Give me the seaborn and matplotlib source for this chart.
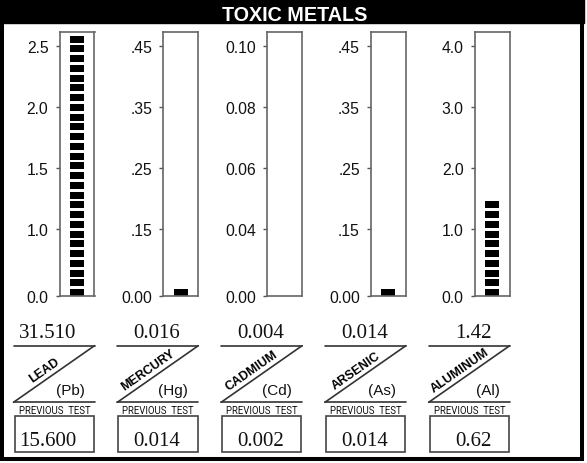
import numpy as np
import matplotlib
matplotlib.use("Agg")
import matplotlib.pyplot as plt
import seaborn as sns
from matplotlib.patches import Rectangle

metals = ["LEAD", "MERCURY", "CADMIUM", "ARSENIC", "ALUMINUM"]
symbols = ["(Pb)", "(Hg)", "(Cd)", "(As)", "(Al)"]
results = ["31.510", "0.016", "0.004", "0.014", "1.42"]
previous = ["15.600", "0.014", "0.002", "0.014", "0.62"]
# level shown by each bar (cadmium's bar is empty on the chart)
bar_values = [31.510, 0.016, 0.0, 0.014, 1.42]
scale_ticks = [
    [0.0, 1.0, 1.5, 2.0, 2.5],
    [0.0, 0.15, 0.25, 0.35, 0.45],
    [0.0, 0.04, 0.06, 0.08, 0.10],
    [0.0, 0.15, 0.25, 0.35, 0.45],
    [0.0, 1.0, 2.0, 3.0, 4.0],
]
tick_labels = [
    ["0.0", "1.0", "1.5", "2.0", "2.5"],
    ["0.00", ".15", ".25", ".35", ".45"],
    ["0.00", "0.04", "0.06", "0.08", "0.10"],
    ["0.00", ".15", ".25", ".35", ".45"],
    ["0.0", "1.0", "2.0", "3.0", "4.0"],
]

W, H = 587, 464
TICK_POS = np.array([0, 67, 128, 189, 250], float)  # report's stretched scale
BOX_TOP = 263.7
SEG_PERIOD, SEG_H = 9.75, 7.0


def make_scale(ticks):
    t = np.array(ticks, float)
    p = TICK_POS
    s_hi = (p[-1] - p[-2]) / (t[-1] - t[-2])
    s_lo = (p[1] - p[0]) / (t[1] - t[0])

    def fwd(v):
        v = np.asarray(v, float)
        out = np.interp(v, t, p)
        out = np.where(v > t[-1], p[-1] + (v - t[-1]) * s_hi, out)
        return np.where(v < t[0], (v - t[0]) * s_lo, out)

    def inv(q):
        q = np.asarray(q, float)
        out = np.interp(q, p, t)
        out = np.where(q > p[-1], t[-1] + (q - p[-1]) / s_hi, out)
        return np.where(q < p[0], t[0] + (q - p[0]) / s_lo, out)

    return fwd, inv


sns.set_theme(style="white")
plt.rcParams["font.family"] = ["Liberation Sans", "DejaVu Sans"]
serif = ["Liberation Serif", "DejaVu Serif"]
small = ["Roboto", "Liberation Sans"]

fig = plt.figure(figsize=(W / 100, H / 100), dpi=100)
bg = fig.add_axes([0, 0, 1, 1])
bg.set_xlim(0, W)
bg.set_ylim(H, 0)
bg.axis("off")

# frame and title bar
bg.add_patch(Rectangle((0, 0), 584, 24, color="black"))
bg.add_patch(Rectangle((2, 2), 580, 457.5, fill=False, lw=2.9, edgecolor="black"))
bg.text(295, 20.9, "TOXIC METALS", color="white", fontsize=14.2, fontweight="bold",
        ha="center", va="baseline")

line_kw = dict(color="#333333", lw=1.2)

for i in range(len(metals)):
    left = 59.5 + 103.8 * i
    right = left + 35
    ax = fig.add_axes([left / W, (H - 297) / H, 35 / W, BOX_TOP / H])
    fwd, inv = make_scale(scale_ticks[i])
    ax.set_yscale("function", functions=(fwd, inv))

    fill = min(float(fwd(bar_values[i])), BOX_TOP - 3)
    k = 0
    while k * SEG_PERIOD < fill and k * SEG_PERIOD + SEG_H <= BOX_TOP - 2:
        lo = float(inv(k * SEG_PERIOD))
        hi = float(inv(k * SEG_PERIOD + SEG_H))
        sns.barplot(x=[0], y=[hi - lo], bottom=lo, color="black", width=14 / 35,
                    saturation=1, errorbar=None, linewidth=0, ax=ax)
        k += 1

    ax.set_xlim(-0.5, 0.5)
    ax.set_ylim(0, float(inv(BOX_TOP)))
    ax.set_xticks([])
    ax.set_yticks(scale_ticks[i], labels=tick_labels[i])
    ax.minorticks_off()
    ax.set_xlabel("")
    ax.set_ylabel("")
    ax.tick_params(axis="y", left=True, length=3.2, width=1, color="#555555",
                   pad=4.8, labelsize=11.3, labelcolor="#111111")
    for sp in ax.spines.values():
        sp.set_color("#666666")
        sp.set_linewidth(1.2)

    # label block below the bar
    bl = right - 81
    bg.text(right - 18, 338, results[i], fontsize=15, family=serif,
            ha="right", va="baseline", color="#111111")
    bg.plot([bl, right], [346.7, 346.7], **line_kw)
    bg.plot([bl, right], [403.3, 346.7], **line_kw)
    bg.plot([bl, right], [403.3, 403.3], **line_kw)
    bg.text(bl + 31, 371, metals[i], rotation=35, rotation_mode="anchor",
            ha="center", va="center", fontsize=9, fontweight="bold",
            color="black")
    bg.text(right - 10, 395, symbols[i], ha="right", va="baseline", fontsize=11,
            color="#111111")
    bg.text(bl + 41, 414.3, "PREVIOUS  TEST", ha="center", va="baseline",
            fontsize=6.9, family=small, color="#111111")
    bg.add_patch(Rectangle((bl + 1, 416.7), 79.3, 36, fill=False,
                           edgecolor="#444444", lw=1.2))
    bg.text(right - 18, 446, previous[i], fontsize=15, family=serif,
            ha="right", va="baseline", color="#111111")

fig.savefig("out.png", dpi=100)
